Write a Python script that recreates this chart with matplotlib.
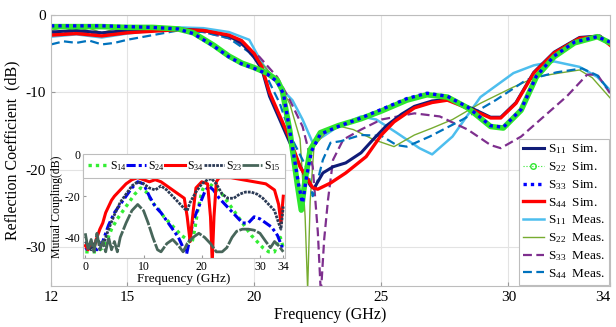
import numpy as np
import matplotlib
matplotlib.use("Agg")
import matplotlib.pyplot as plt
from matplotlib.lines import Line2D

plt.rcParams["font.family"] = ["Liberation Serif", "DejaVu Serif"]
plt.rcParams["mathtext.fontset"] = "custom"
plt.rcParams["mathtext.rm"] = "Liberation Serif"
plt.rcParams["mathtext.it"] = "Liberation Serif:italic"
plt.rcParams["axes.unicode_minus"] = False

# ---- main plot: reflection coefficients (GHz, dB) ----
f_s11_sim = [12, 13, 14, 15, 16, 17, 18, 19, 19.5, 20, 20.3, 20.6, 21, 21.4, 21.8, 22.2, 22.35,
             22.7, 23.1, 23.6, 24.2, 24.7, 25.2, 25.8, 26.3, 27, 27.6, 28.6, 29.3, 29.7, 30.3,
             31, 31.8, 32.8, 33.6, 34]
s11_sim = [-2.2, -2.0, -2.3, -2.0, -2.0, -1.8, -2.0, -2.7, -3.6, -5.5, -7, -10.5, -13.5, -16.5,
           -19.5, -22, -22.4, -20.4, -19.6, -19.1, -17.8, -16, -14.3, -12.8, -11.8, -11.1, -10.9,
           -12.1, -13.2, -13.2, -11.3, -7.4, -4.8, -2.9, -2.7, -3.8]

f_s22_sim = [12, 13, 14, 15, 16, 17, 17.6, 18.4, 19, 19.5, 20, 20.5, 20.9, 21.1, 21.4, 21.7, 21.85,
             22.0, 22.2, 22.6, 23.3, 24.2, 25, 26, 26.8, 27.6, 28.4, 29.3, 29.8, 30.5, 31.1, 31.8,
             32.6, 33.5, 34]
s22_sim = [-1.5, -1.5, -1.5, -1.6, -1.6, -1.8, -2.3, -3.9, -5.3, -6.2, -6.8, -7.5, -8.4, -9.7, -15,
           -22, -25.2, -21.3, -17.4, -15.2, -14.3, -13.4, -12.4, -11, -10.3, -10.6, -12, -14.4,
           -14.6, -12.3, -8, -5.4, -3.6, -2.8, -3.6]

f_s33_sim = [12, 13, 14, 15, 16, 17, 17.6, 18.4, 19, 19.5, 20, 20.5, 20.9, 21.15, 21.45, 21.75, 21.9,
             22.05, 22.25, 22.6, 23.3, 24.2, 25, 26, 26.8, 27.6, 28.4, 29.3, 29.8, 30.5, 31.1, 31.8,
             32.6, 33.5, 34]
s33_sim = [-1.4, -1.4, -1.4, -1.5, -1.6, -1.8, -2.4, -4.0, -5.4, -6.3, -6.9, -7.6, -8.6, -10.2, -16,
           -22, -24.3, -21, -17.6, -15.4, -14.4, -13.3, -12.2, -10.8, -10.1, -10.5, -11.9, -14.3,
           -14.5, -12.2, -7.9, -5.3, -3.5, -2.8, -3.5]

f_s44_sim = [12, 13, 14, 15, 16, 17, 18, 19, 19.5, 20, 20.3, 20.6, 21, 21.4, 21.8, 22.3, 22.5, 23,
             23.6, 24.4, 25, 25.5, 26.3, 27, 27.6, 28.6, 29.3, 29.7, 30.3, 31, 31.8, 32.8, 33.6, 34]
s44_sim = [-2.6, -2.4, -2.7, -2.3, -2.1, -1.9, -2.0, -2.6, -3.3, -5, -6.7, -10, -13, -16, -19.6,
           -22.3, -22.5, -21.7, -20.4, -18.3, -15.5, -13.8, -12, -11.3, -11, -12.3, -13.3, -13.3,
           -11.4, -7.5, -4.9, -3.0, -2.8, -3.9]

f_s11_meas = [12, 13, 14, 15, 16, 17, 18, 19, 19.8, 20.3, 21.0, 21.5, 21.9, 22.3, 22.7, 23.3, 24.2,
              24.8, 25.6, 26.5, 27, 27.8, 28.9, 30.2, 31, 31.8, 32.8, 33.5, 34]
s11_meas = [-2.8, -2.5, -2.9, -2.4, -2.0, -1.6, -1.7, -2.2, -3.2, -6.2, -9.3, -11, -13.5, -16.5,
            -15.7, -14.4, -13.1, -13.5, -15.2, -17.2, -18, -15.7, -10.6, -7.5, -6.5, -6, -6.7, -8,
            -9.7]

f_s22_meas = [12, 12.5, 13, 13.5, 14, 14.5, 15, 16, 17, 18, 19, 19.8, 20.5, 21, 21.4, 21.8, 22.0,
              22.1, 22.2, 22.35, 22.9, 23.4, 23.9, 24.7, 25.5, 26.3, 27, 27.8, 28.9, 30.2, 31.1,
              32, 32.8, 33.3, 34]
s22_meas = [-2.0, -1.6, -2.2, -1.7, -2.3, -1.8, -2.1, -1.8, -1.7, -2.0, -2.8, -4.5, -7, -9, -11.5,
            -16, -26, -35.5, -24, -17, -14.8, -14.4, -14.8, -16.1, -17, -15.5, -14.6, -13.5, -11.4,
            -9.3, -8, -7.5, -7.1, -8.1, -10.7]

f_s33_meas = [12, 13, 14, 15, 16, 17, 18, 19, 19.6, 20.2, 20.9, 21.4, 21.9, 22.3, 22.5, 22.62, 22.75,
              22.9, 23.1, 23.5, 24.2, 25, 26.3, 27.3, 28.4, 29.3, 29.7, 30.5, 31.4, 32.3, 33.1,
              33.5, 34]
s33_meas = [-2.4, -2.2, -2.6, -2.2, -2.0, -1.8, -2.2, -3.0, -4, -5.4, -8, -11, -14.4, -19.6, -28,
            -36, -29, -23.9, -18.7, -16.1, -14.8, -13.5, -12.7, -13.1, -14.8, -16.8, -17.2, -15.7,
            -13.1, -10.5, -7.7, -7.7, -10.1]

f_s44_meas = [12, 12.5, 13, 13.5, 14, 14.5, 15, 16, 17, 18, 19, 19.8, 20.3, 21.0, 21.5, 22.1, 22.3,
              22.5, 22.7, 23.0, 23.4, 24.2, 25, 25.6, 26.0, 26.9, 28.2, 29.5, 30.7, 31.9, 32.9,
              33.5, 34]
s44_meas = [-3.8, -3.4, -3.6, -3.3, -3.8, -3.6, -3.2, -2.6, -2.0, -2.2, -3.0, -4.8, -6.7, -11.4,
            -16.1, -20, -23.4, -21.3, -18.7, -16.5, -16.3, -15.5, -15.6, -16.8, -17, -15.7, -13.5,
            -11, -8.4, -7.4, -6.9, -7.8, -9.9]

# ---- inset: mutual coupling (GHz, dB) ----
f_s14 = [0, 1, 2, 3, 3.8, 4.5, 5.5, 6.5, 7.5, 8.5, 9.5, 10.5, 11.5, 12.5, 13.5, 14.5, 15.5, 16.5,
         17.5, 18.3, 18.8, 19.3, 20, 20.7, 21.3, 22.3, 23.5, 24.5, 25.5, 26.5, 27.5, 28.5, 29.5,
         30.5, 31.5, 32.5, 33, 33.5, 34]
s14 = [-47, -47, -47, -45, -41, -36, -31, -27, -23, -19, -16, -18, -23, -26, -30, -33, -36, -39,
       -41, -43, -36, -27, -18, -13, -14, -16, -19, -23, -27, -31, -35, -39, -42, -45, -47, -47,
       -43, -40, -45]

f_s24 = [0, 1, 2, 3, 4, 5, 6, 7, 8, 9, 10, 11, 12, 13, 14, 15, 16, 16.8, 17.4, 18, 18.5, 19.5,
         20.5, 21.2, 22, 23, 24, 25, 26, 27, 28, 29, 30, 31, 32, 33, 33.7, 34]
s24 = [-46, -44, -46, -42, -34, -28, -24, -20, -16, -13, -14, -20, -25, -28, -32, -36, -40, -45,
       -48, -40, -32, -25, -18, -15, -17, -21, -24, -27, -30, -33, -33, -30, -31, -33, -35, -39,
       -44, -46]

f_s34 = [0, 0.5, 1, 1.5, 2, 2.5, 3, 3.5, 4, 4.5, 5, 6, 7, 8, 9, 10, 11, 12, 13, 14, 15, 16, 17,
         17.5, 18, 18.5, 19, 20, 21, 21.5, 21.8, 22.1, 22.5, 23, 25, 27, 29, 31, 32.5, 33.2, 33.6,
         34]
s34 = [-44, -46, -42, -45, -40, -36, -33, -28, -25, -22, -20, -17, -14, -12, -11, -12, -13, -12,
       -13, -15, -17, -19, -21, -30, -42, -28, -16, -13, -14, -30, -52, -30, -13, -11, -11, -12,
       -13, -14, -17, -24, -33, -20]

f_s23 = [0, 1, 2, 3, 4, 5, 6, 7, 8, 9, 10, 11, 12, 13, 14, 15, 16, 17, 17.5, 18, 19, 20, 21, 21.7,
         22.5, 23.5, 24.5, 25.5, 26.5, 27.5, 28.5, 29.5, 30.5, 31.5, 32.5, 33.2, 33.6, 34]
s23 = [-42, -46, -41, -44, -36, -29, -23, -19, -15, -13, -14, -16, -17, -15, -17, -20, -23, -26,
       -27, -23, -18, -14, -12, -11.5, -14, -19, -21, -21, -19, -18, -18, -19, -21, -24, -27, -33,
       -36, -25]

f_s15 = [0, 0.5, 1, 1.5, 2, 2.5, 3, 3.5, 4, 4.5, 5, 5.5, 6, 7, 8, 9, 10, 10.8, 11.6, 12.4, 13, 14,
         15, 16, 16.8, 17.5, 18.5, 19.5, 20.5, 21.5, 22.5, 23.5, 24.3, 25.2, 26, 27, 28, 29, 30,
         31, 31.8, 32.5, 33.2, 34]
s15 = [-38, -46, -41, -47, -38, -46, -42, -47, -40, -46, -42, -47, -40, -33, -27, -24, -27, -33,
       -40, -46, -47, -43, -41, -44, -47, -43, -40, -38, -40, -43, -47, -47, -45, -40, -37, -36,
       -36, -36.5, -38, -42, -45, -42, -44, -47]

fig = plt.figure(figsize=(6.16, 3.27), dpi=100)
ax = fig.add_axes([0.0828, 0.1254, 0.9075, 0.8287])

ax.plot(f_s11_meas, s11_meas, color="#4dbeee", lw=1.8, label="S$_{11}$ Meas.")
ax.plot(f_s22_meas, s22_meas, color="#77ac30", lw=1.0, label="S$_{22}$ Meas.")
ax.plot(f_s33_meas, s33_meas, color="#7e2f8e", lw=1.6, ls=(0, (4, 2)), label="S$_{33}$ Meas.")
ax.plot(f_s44_meas, s44_meas, color="#0072bd", lw=1.6, ls=(0, (4, 2)), label="S$_{44}$ Meas.")
ax.plot(f_s11_sim, s11_sim, color="#101c78", lw=2.2, label="S$_{11}$ Sim.")
ax.plot(f_s44_sim, s44_sim, color="#ff0000", lw=2.4, label="S$_{44}$ Sim.")
ax.plot(f_s22_sim, s22_sim, color="#2ee62e", lw=4.0, solid_capstyle="round")
ax.plot(f_s33_sim, s33_sim, color="#0000ff", lw=2.4, ls=(0, (1, 1.2)), label="S$_{33}$ Sim.")

ax.set_xlim(12, 34)
ax.set_ylim(-35, 0)
ax.set_xticks([12, 15, 20, 25, 30, 34])
ax.set_yticks([0, -10, -20, -30])
ax.tick_params(direction="in", labelsize=11, length=3, color="#999999")
ax.get_xticklabels()[-1].set_horizontalalignment("right")
ax.grid(True, color="#e3e3e3", lw=0.8)
for sp in ax.spines.values():
    sp.set_color("#bdbdbd")
ax.set_xlabel("Frequency (GHz)", fontsize=11.5, labelpad=2)
ax.set_ylabel("Reflection Coefficient  (dB)", fontsize=11.5, labelpad=4)

legend_items = [
    Line2D([], [], color="#101c78", lw=2.2),
    Line2D([], [], color="#2ee62e", lw=0.8, ls=":", marker="o", ms=4, mfc="none"),
    Line2D([], [], color="#0000ff", lw=2.4, ls=(0, (1, 1.2))),
    Line2D([], [], color="#ff0000", lw=2.4),
    Line2D([], [], color="#4dbeee", lw=1.8),
    Line2D([], [], color="#77ac30", lw=1.0),
    Line2D([], [], color="#7e2f8e", lw=1.6, ls=(0, (4, 2))),
    Line2D([], [], color="#0072bd", lw=1.6, ls=(0, (4, 2))),
]
legend_labels = ["S$_{11}$  Sim.", "S$_{22}$  Sim.", "S$_{33}$  Sim.", "S$_{44}$  Sim.",
                 "S$_{11}$  Meas.", "S$_{22}$  Meas.", "S$_{33}$  Meas.", "S$_{44}$  Meas."]
leg = ax.legend(legend_items, legend_labels, loc="lower right", fontsize=9.5, handlelength=1.6,
                handletextpad=0.3, labelspacing=0.3, borderaxespad=0.1, borderpad=0.3,
                fancybox=False, framealpha=1, edgecolor="#bdbdbd")
leg.get_frame().set_linewidth(0.8)

# ---- inset ----
ins = fig.add_axes([0.1347, 0.211, 0.328, 0.315])
ins.set_facecolor("white")
ins.plot(f_s14, s14, color="#33ee33", lw=2.4, ls=(0, (1, 1.2)), label="S$_{14}$")
ins.plot(f_s24, s24, color="#0000ee", lw=2.2, ls=(0, (3, 1, 1, 1)), label="S$_{24}$")
ins.plot(f_s34, s34, color="#ff0000", lw=2.2, label="S$_{34}$")
ins.plot(f_s23, s23, color="#2b3a55", lw=2.0, ls=(0, (1, 0.4)), label="S$_{23}$")
ins.plot(f_s15, s15, color="#47665a", lw=2.0, ls=(0, (6, 0.6)), label="S$_{15}$")
ins.set_xlim(-0.4, 34.3)
ins.set_ylim(-50, 0)
ins.set_xticks([0, 10, 20, 30, 34])
ins.set_yticks([0, -20, -40])
ins.tick_params(direction="in", labelsize=8.5, length=2, pad=2, color="#999999")
for sp in ins.spines.values():
    sp.set_color("#bdbdbd")
ins.set_xlabel("Frequency (GHz)", fontsize=9.5, labelpad=0)
ins.set_ylabel("Mutual Coupling(dB)", fontsize=8.5, labelpad=1)
ileg = ins.legend(loc="upper left", ncol=5, mode="expand", bbox_to_anchor=(0, 1.005, 1, 0),
                  fontsize=8.5, handlelength=1.7, handletextpad=0.15, columnspacing=0.3,
                  borderaxespad=0, borderpad=0.4, fancybox=False, framealpha=1,
                  edgecolor="#bdbdbd")
ileg.get_frame().set_linewidth(0.8)

fig.savefig("out.png", dpi=100)
